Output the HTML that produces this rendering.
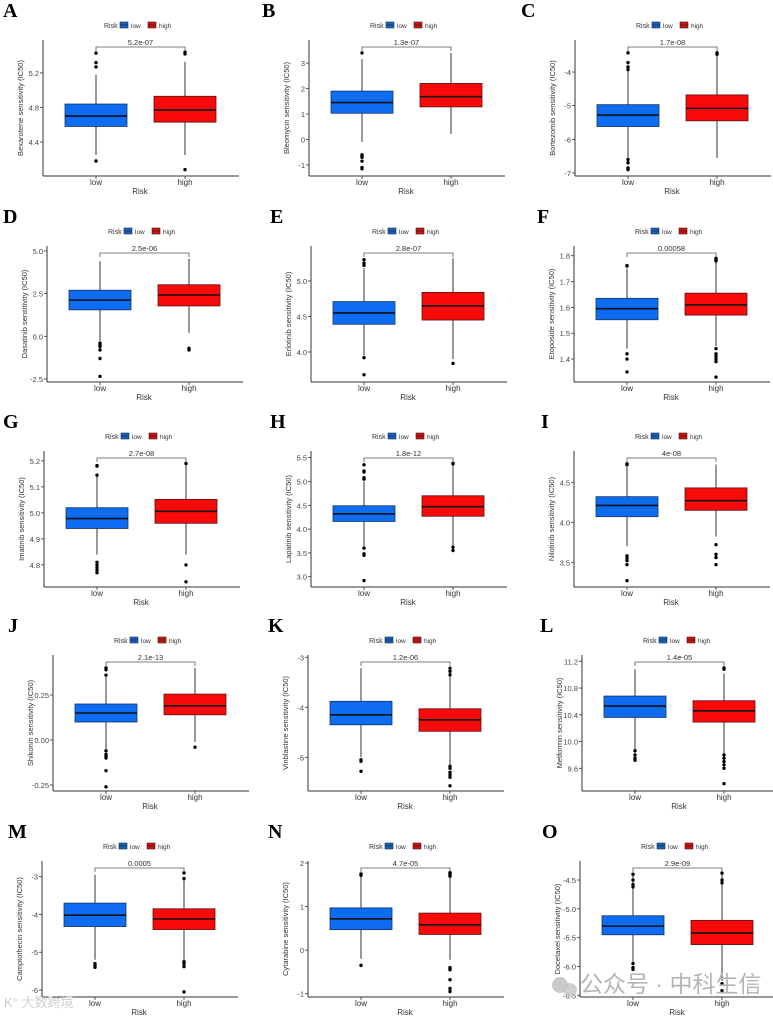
<!DOCTYPE html>
<html><head><meta charset="utf-8"><style>
html,body{margin:0;padding:0;background:#fff;}
svg{display:block;font-family:"Liberation Sans",Arial,sans-serif;}
</style></head><body>
<svg id="fig" width="773" height="1016" viewBox="0 0 773 1016" xmlns="http://www.w3.org/2000/svg"></svg>
<script>
const panelLetters=["A","B","C","D","E","F","G","H","I","J","K","L","M","N","O"];
const drugNames=["Bexarotene","Bleomycin","Bortezomib","Dasatinib","Erlotinib","Etoposide","Imatinib","Lapatinib","Nilotinib","Shikonin","Vinblastine","Metformin","Camptothecin","Cytarabine","Docetaxel"];
const pValues=["5.2e-07","1.3e-07","1.7e-08","2.5e-06","2.8e-07","0.00058","2.7e-08","1.8e-12","4e-08","2.1e-13","1.2e-06","1.4e-05","0.0005","4.7e-05","2.9e-09"];
const categories=["low","high"];
const yDomains=[[4.006,5.582],[-1.433,3.906],[-7.09,-3.048],[-2.676,5.29],[3.577,5.493],[1.311,1.8376],[4.715,5.238],[2.784,5.64],[3.191,4.891],[-0.283,0.472],[-5.674,-2.954],[9.26,11.294],[-6.185,-2.585],[-1.076,2.046],[-6.53,-4.17]];
const yTicks=[[4.4,4.8,5.2],[-1,0,1,2,3],[-7,-6,-5,-4],[-2.5,0,2.5,5],[4,4.5,5],[1.4,1.5,1.6,1.7,1.8],[4.8,4.9,5.0,5.1,5.2],[3,3.5,4,4.5,5,5.5],[3.5,4,4.5],[-0.25,0,0.25],[-5,-4,-3],[9.6,10,10.4,10.8,11.2],[-6,-5,-4,-3],[-1,0,1,2],[-6.5,-6,-5.5,-5,-4.5]];
const tickLabels=[["4.4","4.8","5.2"],["-1","0","1","2","3"],["-7","-6","-5","-4"],["-2.5","0.0","2.5","5.0"],["4.0","4.5","5.0"],["1.4","1.5","1.6","1.7","1.8"],["4.8","4.9","5.0","5.1","5.2"],["3.0","3.5","4.0","4.5","5.0","5.5"],["3.5","4.0","4.5"],["-0.25","0.00","0.25"],["-5","-4","-3"],["9.6","10.0","10.4","10.8","11.2"],["-6","-5","-4","-3"],["-1","0","1","2"],["-6.5","-6.0","-5.5","-5.0","-4.5"]];
// [whiskerLow, q1, median, q3, whiskerHigh]
const lowStats=[[4.25,4.58,4.70,4.84,5.18],[-0.1,1.03,1.45,1.90,3.15],[-6.55,-5.62,-5.28,-4.97,-3.95],[-0.3,1.55,2.12,2.70,4.4],[3.95,4.39,4.55,4.71,5.18],[1.44,1.552,1.595,1.635,1.75],[4.84,4.94,4.978,5.02,5.14],[3.62,4.16,4.32,4.49,5.0],[3.7,4.07,4.21,4.32,4.7],[-0.05,0.10,0.15,0.20,0.35],[-5.0,-4.35,-4.15,-3.88,-3.22],[9.88,10.36,10.53,10.68,11.08],[-5.2,-4.32,-4.02,-3.70,-2.95],[-0.2,0.47,0.72,0.97,1.72],[-5.92,-5.45,-5.30,-5.12,-4.38]];
const highStats=[[4.25,4.63,4.77,4.93,5.33],[0.22,1.28,1.68,2.20,3.4],[-6.55,-5.45,-5.08,-4.68,-3.5],[0.2,1.78,2.42,3.02,4.55],[3.9,4.45,4.65,4.84,5.32],[1.45,1.57,1.61,1.655,1.78],[4.84,4.96,5.006,5.052,5.19],[3.65,4.27,4.47,4.70,5.35],[3.82,4.15,4.27,4.43,4.72],[-0.01,0.14,0.19,0.255,0.40],[-5.15,-4.48,-4.25,-4.03,-3.2],[9.8,10.29,10.46,10.61,11.02],[-5.2,-4.40,-4.12,-3.85,-3.0],[-0.22,0.36,0.58,0.85,1.68],[-6.25,-5.62,-5.42,-5.20,-4.4]];
const lowOutliers=[[4.18,5.27,5.32,5.43],[3.4,-0.6,-0.65,-0.7,-0.85,-1.1,-1.15],[-3.93,-3.85,-3.72,-3.43,-6.6,-6.7,-6.85,-6.9],[-0.4,-0.5,-0.6,-0.8,-1.3,-2.35],[3.92,3.68,5.22,5.25,5.30],[1.76,1.762,1.42,1.40,1.35],[5.145,5.18,5.182,4.81,4.80,4.79,4.78,4.77],[3.6,3.48,3.45,2.92,5.05,5.08,5.2,5.22,5.35],[4.72,4.73,3.58,3.55,3.52,3.47,3.27],[0.36,0.39,0.40,-0.06,-0.08,-0.09,-0.1,-0.17,-0.26],[-5.05,-5.08,-5.28],[9.86,9.8,9.75,9.72],[-5.3,-5.35,-5.4],[1.75,1.72,-0.35],[-4.4,-4.5,-4.58,-4.62,-5.95,-6.02,-6.05]];
const highOutliers=[[4.08,5.42,5.44],[],[-3.43,-3.47],[-0.7,-0.8],[3.84],[1.785,1.79,1.78,1.44,1.42,1.41,1.40,1.39,1.33],[5.19,4.80,4.735],[3.62,3.55,5.37,5.38],[3.72,3.6,3.56,3.47],[-0.04],[-3.22,-3.28,-3.35,-5.18,-5.22,-5.3,-5.35,-5.4,-5.57],[11.08,11.1,9.8,9.75,9.7,9.65,9.6,9.37],[-2.9,-3.05,-5.25,-5.3,-5.38,-6.05],[1.7,1.72,1.75,1.78,-0.4,-0.42,-0.45,-0.68,-0.88,-0.95],[-4.38,-4.5,-4.55,-6.3,-6.42]];
// layout
const rowOffsets=[0,206,411,615,821];
const axisXs=[43,309,575,47,311,574,44,311,574,53,308,582,42,308,580];
const letterXs=[3,262,521,3,270,537,3,270,541,8,268,540,8,268,542];

const NS="http://www.w3.org/2000/svg";
const svg=document.getElementById("fig");
function mk(tag,attrs,parent,text){const e=document.createElementNS(NS,tag);for(const k in attrs)e.setAttribute(k,attrs[k]);if(text!==undefined)e.textContent=text;(parent||svg).appendChild(e);return e;}
const TOP=40,BOT=176;
const fills=["#0d6cf2","#f80a0a"],strokes=["#14355f","#5a1010"];

panelLetters.forEach((L,i)=>{
  const oy=rowOffsets[Math.floor(i/3)];
  const ax=axisXs[i];
  const g=mk("g",{});
  
  
  const dom=yDomains[i];
  const y=v=>oy+BOT-(v-dom[0])/(dom[1]-dom[0])*(BOT-TOP);
  const xc=[ax+53,ax+142];
  const lt=mk("text",{x:letterXs[i],y:oy+17,"font-family":"Liberation Serif,serif","font-weight":"bold","font-size":"20"},g,L);
  
  
  // legend
  const lx=ax+97-36, ly=oy+28;
  const lg=mk("g",{},g);
  
  
  mk("text",{x:lx,y:ly,"font-size":"7",fill:"#333"},lg,"Risk");
  [0,1].forEach(k=>{
    const bx=lx+16+k*28;
    const r=mk("rect",{x:bx,y:ly-6,width:8,height:6,fill:k?"#c41818":"#1f5fb8",stroke:strokes[k],"stroke-width":"0.6"},lg);
    
    
    mk("line",{x1:bx,x2:bx+8,y1:ly-3,y2:ly-3,stroke:strokes[k],"stroke-width":"0.8"},lg);
    mk("text",{x:bx+11,y:ly,"font-size":"6.5",fill:"#333"},lg,categories[k]);
  });
  // axes
  const ya=mk("line",{x1:ax,x2:ax,y1:oy+TOP,y2:oy+BOT,stroke:"#333","stroke-width":"1"},g);
  
  
  const xa=mk("line",{x1:ax,x2:ax+196,y1:oy+BOT,y2:oy+BOT,stroke:"#333","stroke-width":"1"},g);
  
  
  yTicks[i].forEach((t,j)=>{
    const yy=y(t);
    mk("line",{x1:ax-3,x2:ax,y1:yy,y2:yy,stroke:"#333","stroke-width":"0.8"},g);
    const tl=mk("text",{x:ax-4,y:yy+3,"font-size":"7.5","text-anchor":"end",fill:"#444"},g,tickLabels[i][j]);
    
    
  });
  const yt=mk("text",{x:0,y:0,"font-size":"7.5","text-anchor":"middle",fill:"#333",transform:`translate(${ax-20},${oy+108}) rotate(-90)`},g,drugNames[i]+" sensitivity (IC50)");
  
  
  const xt=mk("text",{x:ax+97,y:oy+194,"font-size":"8","text-anchor":"middle",fill:"#333"},g,"Risk");
  
  
  // boxes
  [lowStats[i],highStats[i]].forEach((s,k)=>{
    const cx=xc[k];
    mk("line",{x1:cx,x2:cx,y1:oy+BOT,y2:oy+BOT+3,stroke:"#333","stroke-width":"0.8"},g);
    const xl=mk("text",{x:cx,y:oy+185,"font-size":"8","text-anchor":"middle",fill:"#333"},g,categories[k]);
    
    
    const w=mk("line",{x1:cx,x2:cx,y1:y(s[0]),y2:y(s[4]),stroke:"#333","stroke-width":"1"},g);
    
    
    const b=mk("rect",{x:cx-31,y:y(s[3]),width:62,height:y(s[1])-y(s[3]),fill:fills[k],stroke:strokes[k],"stroke-width":"0.8"},g);
    
    
    const m=mk("line",{x1:cx-31,x2:cx+31,y1:y(s[2]),y2:y(s[2]),stroke:"#111","stroke-width":"1.6"},g);
    
    
    (k?highOutliers[i]:lowOutliers[i]).forEach(v=>{
      const c=mk("circle",{cx:cx,cy:y(v),r:1.7,fill:"#000"},g);
      
      
    });
  });
  // p-value bracket
  const by=oy+47;
  const br=mk("path",{d:`M${xc[0]},${by+4}V${by}H${xc[1]}V${by+4}`,fill:"none",stroke:"#555","stroke-width":"0.8"},g);
  
  
  const pv=mk("text",{x:(xc[0]+xc[1])/2,y:by-2,"font-size":"7.5","text-anchor":"middle",fill:"#333"},g,pValues[i]);
  
  
});
const wm1=mk("text",{x:580,y:992,"font-size":"23",fill:"#b5b5b5","font-family":"Liberation Sans,Noto Sans CJK SC,sans-serif"},svg,"公众号 · 中科生信");


mk("circle",{cx:560,cy:985,r:8,fill:"#bbb",opacity:"0.8"});
mk("circle",{cx:570,cy:990,r:7,fill:"#c4c4c4",opacity:"0.8"});
const wm2=mk("text",{x:4,y:1007,"font-size":"13",fill:"#d0d0d0","font-family":"Liberation Sans,Noto Sans CJK SC,sans-serif"},svg,"K° 大数跨境");


</script>
</body></html>
